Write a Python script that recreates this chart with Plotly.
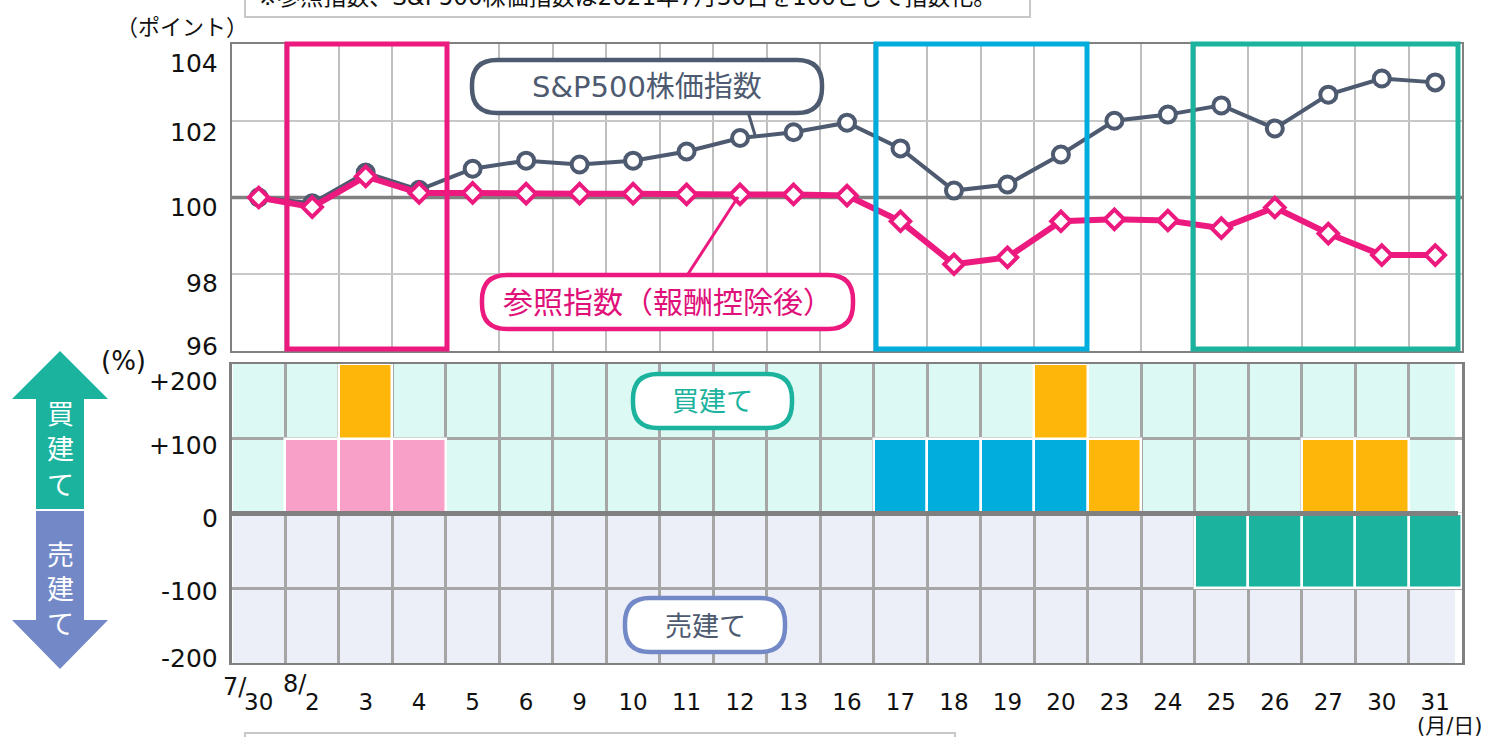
import plotly.graph_objects as go

W, H = 1488, 737
FONT = "DejaVu Sans, Noto Sans CJK JP, sans-serif"
CJK = "Noto Sans CJK JP, sans-serif"

dates = ["7/30","8/2","8/3","8/4","8/5","8/6","8/9","8/10","8/11","8/12","8/13","8/16",
         "8/17","8/18","8/19","8/20","8/23","8/24","8/25","8/26","8/27","8/30","8/31"]
tick_labels = ["30","2","3","4","5","6","9","10","11","12","13","16",
               "17","18","19","20","23","24","25","26","27","30","31"]
sp500 = [100.0,99.85,100.65,100.2,100.75,100.96,100.86,100.96,101.2,101.55,101.7,101.95,
         101.28,100.18,100.34,101.12,102.0,102.16,102.4,101.8,102.68,103.1,103.0]
ref_index = [100.0,99.75,100.55,100.12,100.12,100.1,100.1,100.1,100.08,100.08,100.08,100.05,
             99.38,98.26,98.44,99.38,99.43,99.4,99.2,99.74,99.06,98.5,98.5]
pink_pos = [None,100,100,100]+[None]*19
blue_pos = [None]*12+[100,100,100,100]+[None]*7
orange_pos = [None,None,100]+[None]*12+[100,100,None,None,None,100,100,None]
green_neg = [None]*18+[-100,-100,-100,-100,-100]

upper_ticks = [104,102,100,98,96]
upper_shift = [-20,-12,-10,-9,4]
lower_ticks = [200,100,0,-100,-200]
lower_labels = ["+200","+100","0","-100","-200"]
lower_shift = [-17,-7,-5,-3,5]

PINK, SLATE, BLUE, TEAL, ORANGE, LPINK, PERI = "#EC1A7F","#4D5A70","#00ADDC","#1BB39E","#FFB60B","#F8A0C8","#7389C7"

def px(x): return x/W
def py(y): return 1-y/H

def rr(x0,y0,x1,y1,r):
    a,b,c,d = px(x0),py(y0),px(x1),py(y1)
    rx,ry = r/W,r/H
    return (f"M{a+rx},{b} L{c-rx},{b} Q{c},{b} {c},{b-ry} L{c},{d+ry} Q{c},{d} {c-rx},{d} "
            f"L{a+rx},{d} Q{a},{d} {a},{d+ry} L{a},{b-ry} Q{a},{b} {a+rx},{b} Z")

def poly(pts):
    return "M"+" L".join(f"{px(x)},{py(y)}" for x,y in pts)+" Z"

fig = go.Figure()
fig.add_trace(go.Scatter(x=dates,y=sp500,mode="lines+markers",xaxis="x",yaxis="y",name="S&P500株価指数",
    line=dict(color=SLATE,width=4),marker=dict(symbol="circle",size=16,color="white",line=dict(color=SLATE,width=4))))
fig.add_trace(go.Scatter(x=dates,y=ref_index,mode="lines+markers",xaxis="x",yaxis="y",name="参照指数（報酬控除後）",
    line=dict(color=PINK,width=6),marker=dict(symbol="diamond",size=15,color="white",line=dict(color=PINK,width=4))))
for vals,col in [(pink_pos,LPINK),(blue_pos,BLUE),(orange_pos,ORANGE),(green_neg,TEAL)]:
    fig.add_trace(go.Bar(x=dates,y=vals,xaxis="x2",yaxis="y2",width=1,marker=dict(color=col,line=dict(color="white",width=2.5))))

shapes = [
    # lower panel backgrounds
    dict(type="path",xref="paper",yref="paper",layer="below",path=poly([(233,364),(1455,364),(1455,514),(233,514)]),fillcolor="#DCF9F3",line_width=0),
    dict(type="path",xref="paper",yref="paper",layer="below",path=poly([(233,514),(1455,514),(1455,663),(233,663)]),fillcolor="#ECEFF8",line_width=0),
    # baselines
    dict(type="line",xref="x",yref="y",x0=-0.5,x1=22.5,y0=100,y1=100,layer="between",line=dict(color="#808080",width=3.5)),
    dict(type="line",xref="paper",yref="y2",x0=px(232),x1=px(1458),y0=0,y1=0,layer="above",line=dict(color="#808080",width=5)),
    # highlight frames
    dict(type="path",xref="paper",yref="paper",path=poly([(287,44),(447,44),(447,349),(287,349)]),line=dict(color=PINK,width=5),fillcolor="rgba(0,0,0,0)"),
    dict(type="path",xref="paper",yref="paper",path=poly([(876,44),(1087,44),(1087,349),(876,349)]),line=dict(color=BLUE,width=5),fillcolor="rgba(0,0,0,0)"),
    dict(type="path",xref="paper",yref="paper",path=poly([(1193,44),(1458,44),(1458,349),(1193,349)]),line=dict(color=TEAL,width=5),fillcolor="rgba(0,0,0,0)"),
    # leaders
    dict(type="line",xref="paper",yref="paper",x0=px(748),y0=py(112),x1=px(755),y1=py(135),line=dict(color=SLATE,width=3)),
    dict(type="line",xref="paper",yref="paper",x0=px(688),y0=py(274),x1=px(738),y1=py(197),line=dict(color=PINK,width=3)),
    # callouts
    dict(type="path",xref="paper",yref="paper",path=rr(472,60,822,113,25),fillcolor="white",line=dict(color=SLATE,width=4.5)),
    dict(type="path",xref="paper",yref="paper",path=rr(482,275,853,329,25),fillcolor="white",line=dict(color=PINK,width=4.5)),
    dict(type="path",xref="paper",yref="paper",path=rr(633,374,792,428,25),fillcolor="white",line=dict(color=TEAL,width=4.5)),
    dict(type="path",xref="paper",yref="paper",path=rr(625,598,785,652,25),fillcolor="white",line=dict(color=PERI,width=4.5)),
    # note boxes
    dict(type="path",xref="paper",yref="paper",path=poly([(245,-5),(1030,-5),(1030,17),(245,17)]),fillcolor="white",line=dict(color="#C8C8C8",width=2)),
    dict(type="path",xref="paper",yref="paper",path=poly([(245,733),(955,733),(955,745),(245,745)]),fillcolor="white",line=dict(color="#C8C8C8",width=2)),
    # arrows
    dict(type="path",xref="paper",yref="paper",path=poly([(60,351),(108,399),(84,399),(84,509),(36,509),(36,399),(12,399)]),fillcolor=TEAL,line_width=0),
    dict(type="path",xref="paper",yref="paper",path=poly([(36,511),(84,511),(84,620),(108,620),(60,669),(12,620),(36,620)]),fillcolor=PERI,line_width=0),
]

def note(x,y,text,size=24,color="#111111",font=FONT,anchor="center"):
    return dict(xref="paper",yref="paper",x=px(x),y=py(y),text=text,showarrow=False,xanchor=anchor,yanchor="middle",
                font=dict(family=font,size=size,color=color))

ann = [
    note(647,87,"S&P500株価指数",29,SLATE),
    note(668,302,"参照指数（報酬控除後）",30,"#E0107A"),
    note(712,402,"買建て",27,TEAL),
    note(705,626,"売建て",27,"#4D5A70"),
    note(182,25,"（ポイント）",22,"#111111",CJK),
    note(123,361,"(%)",26),
    note(1449,726,"(月/日)",21),
    note(627,-3,"※参照指数、S&P500株価指数は2021年7月30日を100として指数化。",23,"#111111"),
    note(235,687,"7/",24),
    note(295,684,"8/",24),
]
for ch,y in zip("買建て",[412,447,483]): ann.append(note(60,y,ch,27,"white",CJK))
for ch,y in zip("売建て",[553,587,622]): ann.append(note(60,y,ch,27,"white",CJK))
for v,s in zip(upper_ticks,upper_shift):
    ann.append(dict(xref="paper",yref="y",x=px(220),y=v,yshift=s,text=str(v),showarrow=False,xanchor="right",yanchor="middle",
                    font=dict(family=FONT,size=25,color="#111111")))
for v,l,s in zip(lower_ticks,lower_labels,lower_shift):
    ann.append(dict(xref="paper",yref="y2",x=px(220),y=v,yshift=s,text=l,showarrow=False,xanchor="right",yanchor="middle",
                    font=dict(family=FONT,size=25,color="#111111")))

xcommon = dict(type="category",categoryorder="array",categoryarray=dates,range=[-0.5,22.5],tickson="boundaries",
               showline=True,linecolor="#808080",linewidth=2,mirror=True,ticks="",zeroline=False)
fig.update_layout(
    width=W,height=H,margin=dict(l=0,r=0,t=0,b=0),autosize=False,
    paper_bgcolor="white",plot_bgcolor="white",showlegend=False,barmode="relative",bargap=0,
    font=dict(family=FONT,size=22,color="#111111"),
    xaxis=dict(xcommon,domain=[px(232),px(1462)],anchor="y",showticklabels=False,showgrid=True,gridcolor="#BFBFBF",gridwidth=2),
    xaxis2=dict(xcommon,domain=[px(232),px(1462)],anchor="y2",showgrid=True,gridcolor="#A6A6A6",gridwidth=2.5,
                tickmode="array",tickvals=dates,ticktext=tick_labels,ticklabelstandoff=17,tickfont=dict(family=FONT,size=23,color="#111111")),
    yaxis=dict(domain=[py(351),py(44)],anchor="x",range=[96,104],tickmode="array",tickvals=upper_ticks,showticklabels=False,
               showgrid=True,gridcolor="#C8C8C8",gridwidth=2,showline=True,linecolor="#808080",linewidth=2,mirror=True,zeroline=False),
    yaxis2=dict(domain=[py(663),py(364)],anchor="x2",range=[-200,200],tickmode="array",tickvals=lower_ticks,showticklabels=False,
                showgrid=True,gridcolor="#A6A6A6",gridwidth=2.5,showline=True,linecolor="#808080",linewidth=3,mirror=True,zeroline=False),
    shapes=shapes,annotations=ann,
)
fig.write_html("out.html", config={"displayModeBar":False}, post_script="document.body.style.margin='0';document.body.style.overflow='hidden';")
